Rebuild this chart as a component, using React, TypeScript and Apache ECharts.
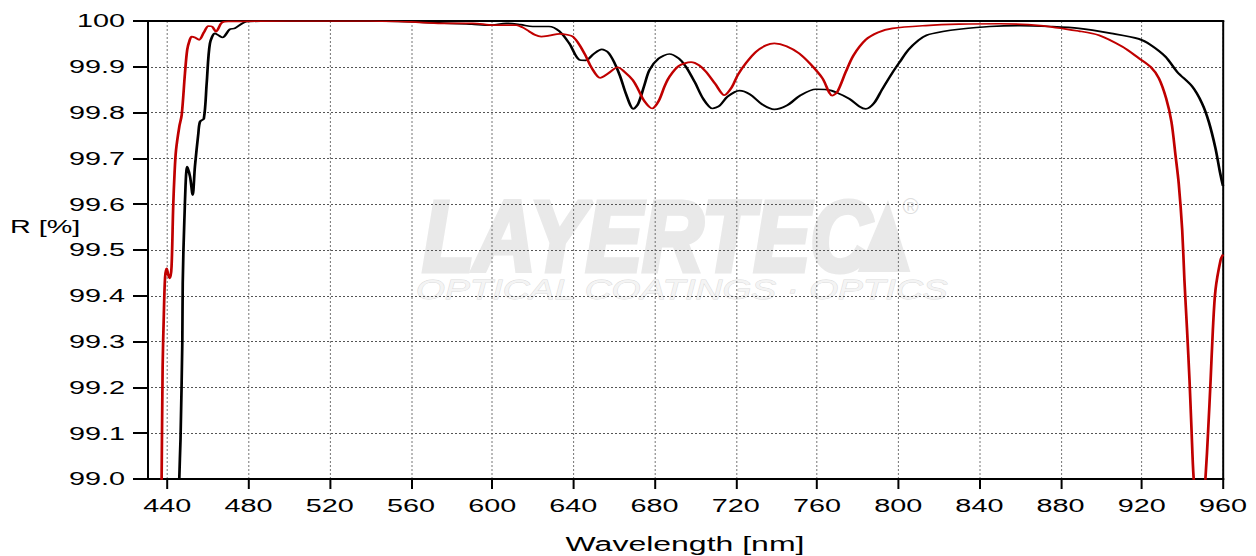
import React, { useEffect, useRef } from "react";
import * as echarts from "echarts";

// ---- data ----
const xTickValues = [440, 480, 520, 560, 600, 640, 680, 720, 760, 800, 840, 880, 920, 960];

const blackWl = [
  445.0, 445.9, 446.5, 447.4, 447.6, 448.4, 449.8, 451.2, 452.5, 453.6, 455.3, 456.1, 458.0, 459.4,
  461.0, 463.5, 465.5, 467.2, 470.8, 473.2, 477.4, 480, 500, 540, 574, 590, 599, 607, 614, 620, 628,
  633, 638, 643, 646, 650, 654, 657, 660, 663, 666, 669.6, 672, 675, 677.5, 682, 687.3, 692, 695.5,
  700, 704, 708.6, 712, 716, 721.8, 727, 733, 739, 745, 752, 759.5, 765, 770, 776, 781, 784, 788, 792,
  797, 801, 805, 810, 814, 822, 830, 845, 860, 875, 889, 905, 918.5, 924.3, 931.7, 937.4, 944.8,
  949.7, 953, 956.3, 958.5, 960,
];
const blackR = [
  98.7, 99.0, 99.085, 99.3, 99.427, 99.565, 99.682, 99.66, 99.62, 99.682, 99.755, 99.78, 99.787, 99.864,
  99.951, 99.973, 99.968, 99.964, 99.982, 99.984, 99.996, 99.999, 100.0, 100.0, 99.996, 99.993, 99.991,
  99.995, 99.992, 99.988, 99.988, 99.978, 99.951, 99.915, 99.914, 99.928, 99.938, 99.932, 99.911, 99.88,
  99.84, 99.808, 99.82, 99.86, 99.893, 99.918, 99.928, 99.918, 99.9, 99.865, 99.83, 99.809, 99.815,
  99.835, 99.848, 99.84, 99.818, 99.807, 99.815, 99.838, 99.851, 99.85, 99.843, 99.83, 99.813, 99.808,
  99.82, 99.85, 99.886, 99.912, 99.937, 99.958, 99.969, 99.977, 99.982, 99.988, 99.99, 99.988, 99.984,
  99.973, 99.961, 99.948, 99.922, 99.889, 99.857, 99.82, 99.78, 99.722, 99.67, 99.64,
];

const redWl = [
  436.4, 437.2, 437.7, 438.3, 438.9, 439.7, 440.5, 441.3, 442.1, 442.9, 443.6, 444.3, 445.9, 447.1,
  448.7, 449.8, 451, 452, 453.6, 455.7, 458, 460.2, 462, 464, 466.8, 470, 500, 540, 560, 575, 590.5,
  600.4, 611.9, 615, 618.4, 621, 624.2, 628, 633.2, 637, 639.7, 643, 646.3, 649, 653.2, 657, 661.9,
  665, 669.3, 672, 675, 678.8, 682, 685, 687.3, 692, 698, 702, 705.4, 710, 714.4, 718, 721, 725, 730,
  735, 739, 745, 751.3, 757, 762.7, 767.6, 770, 774.2, 778, 784, 790, 797.2, 813.6, 830, 850, 870, 889,
  898.9, 910.4, 918.5, 924.3, 928.4, 932, 934.6, 936.6, 938.2, 939.9, 941, 942.3, 943.5, 944.5, 945.5,
  948.5, 951.4, 952.7, 953.9, 955, 956.3, 958.8, 960,
];
const redR = [
  98.7, 99.0, 99.245, 99.36, 99.44, 99.46, 99.445, 99.438, 99.464, 99.595, 99.67, 99.718, 99.769,
  99.795, 99.886, 99.937, 99.958, 99.966, 99.964, 99.959, 99.975, 99.989, 99.988, 99.977, 99.996,
  99.999, 100, 100, 99.998, 99.995, 99.995, 99.991, 99.991, 99.986, 99.977, 99.97, 99.966, 99.968,
  99.972, 99.97, 99.966, 99.948, 99.922, 99.898, 99.876, 99.885, 99.899, 99.89, 99.871, 99.85, 99.825,
  99.809, 99.825, 99.858, 99.878, 99.902, 99.91, 99.903, 99.889, 99.862, 99.838, 99.855, 99.882,
  99.908, 99.933, 99.947, 99.951, 99.945, 99.929, 99.905, 99.875, 99.837, 99.845, 99.889, 99.925,
  99.959, 99.975, 99.984, 99.99, 99.993, 99.994, 99.99, 99.978, 99.969, 99.944, 99.919, 99.9, 99.875,
  99.831, 99.78, 99.707, 99.645, 99.544, 99.434, 99.325, 99.216, 99.107, 99.005, 98.85, 99.005,
  99.107, 99.216, 99.325, 99.413, 99.478, 99.49,
];

const S = 1.6; // horizontal stretch of the reference
const W = 1256 / S;
const H = 556;
const FONT = "'Liberation Sans', Arial, sans-serif";

export default function App() {
  const ref = useRef<HTMLDivElement>(null);
  useEffect(() => {
    if (!ref.current) return;
    const chart = echarts.init(ref.current, null, { renderer: "svg" });
    const zip = (a: number[], b: number[]) => a.map((x, i) => [x, b[i]]);
    chart.setOption({
      animation: false,
      backgroundColor: "#ffffff",
      grid: {
        left: 147 / S,
        right: W - 1223 / S,
        top: 21,
        bottom: H - 479,
        containLabel: false,
        outerBoundsMode: "none",
      },
      xAxis: [
        {
          type: "value",
          min: 430,
          max: 960,
          name: "Wavelength [nm]",
          nameLocation: "middle",
          nameGap: 55,
          nameTextStyle: { fontFamily: FONT, fontSize: 20, color: "#000" },
          axisLine: { show: true, onZero: false, lineStyle: { color: "#000", width: 2 } },
          axisTick: { show: true, customValues: xTickValues, length: 10, lineStyle: { color: "#000", width: 2 / S } },
          axisLabel: { show: true, customValues: xTickValues, fontFamily: FONT, fontSize: 18, color: "#000", margin: 18 },
          splitLine: { show: true, lineStyle: { color: "#555", width: 1 / S, type: [2, 2] } },
        },
        {
          type: "value",
          position: "top",
          min: 430,
          max: 960,
          axisLine: { show: true, onZero: false, lineStyle: { color: "#000", width: 2 } },
          axisTick: { show: false },
          axisLabel: { show: false },
          splitLine: { show: false },
        },
      ],
      yAxis: [
        {
          type: "value",
          min: 99,
          max: 100,
          interval: 0.1,
          axisLine: { show: true, onZero: false, lineStyle: { color: "#000", width: 2 / S } },
          axisTick: { show: true, length: 14 / S, lineStyle: { color: "#000", width: 2 } },
          axisLabel: {
            fontFamily: FONT,
            fontSize: 18,
            color: "#000",
            margin: 22 / S,
            formatter: (v: number) => (v >= 99.999 ? "100" : v.toFixed(1)),
          },
          splitLine: { show: true, lineStyle: { color: "#555", width: 1, type: [2 / S, 2 / S] } },
        },
        {
          type: "value",
          position: "right",
          min: 99,
          max: 100,
          interval: 0.1,
          axisLine: { show: true, onZero: false, lineStyle: { color: "#000", width: 2 / S } },
          axisTick: { show: false },
          axisLabel: { show: false },
          splitLine: { show: false },
        },
      ],
      graphic: [
        {
          type: "text",
          x: 10 / S,
          y: 227,
          style: {
            text: "R [%]",
            fontFamily: FONT,
            fontSize: 18,
            fill: "#000",
            align: "left",
            verticalAlign: "middle",
          },
        },
        {
          type: "text",
          z: -10,
          x: 264,
          y: 236,
          scaleX: 0.53,
          style: {
            text: "LAYERTEC",
            fontFamily: FONT,
            fontWeight: 900,
            fontStyle: "italic",
            fontSize: 100,
            fill: "#e9e9e9",
            stroke: "#e9e9e9",
            lineWidth: 5,
            verticalAlign: "middle",
          },
        },
        {
          type: "polygon",
          z: -10,
          shape: { points: [[536, 272], [555, 200], [569, 272]] },
          style: { fill: "#e9e9e9" },
        },
        {
          type: "text",
          z: -10,
          x: 564,
          y: 206,
          scaleX: 1 / S,
          style: { text: "®", fontFamily: FONT, fontSize: 22, fill: "#dedede", verticalAlign: "middle" },
        },
        {
          type: "text",
          z: -10,
          x: 260,
          y: 289,
          scaleX: 0.83,
          style: {
            text: "OPTICAL COATINGS · OPTICS",
            fontFamily: FONT,
            fontStyle: "italic",
            fontSize: 28,
            fill: "#f4f4f4",
            stroke: "#dadada",
            lineWidth: 0.8,
            verticalAlign: "middle",
          },
        },
      ],
      series: [
        {
          type: "line",
          xAxisIndex: 0,
          yAxisIndex: 0,
          data: zip(blackWl, blackR),
          showSymbol: false,
          smooth: 0.3,
          clip: true,
          lineStyle: { color: "#000000", width: 1.7 },
          z: 3,
        },
        {
          type: "line",
          xAxisIndex: 0,
          yAxisIndex: 0,
          data: zip(redWl, redR),
          showSymbol: false,
          smooth: 0.3,
          clip: true,
          lineStyle: { color: "#c00000", width: 1.7 },
          z: 4,
        },
      ],
    });
    return () => chart.dispose();
  }, []);
  return (
    <div
      style={{
        position: "absolute",
        left: 0,
        top: 0,
        width: 1256,
        height: H,
        overflow: "hidden",
        background: "#fff",
      }}
    >
      <div
        ref={ref}
        style={{
          width: W,
          height: H,
          transform: `scaleX(${S})`,
          transformOrigin: "0 0",
        }}
      />
    </div>
  );
}
